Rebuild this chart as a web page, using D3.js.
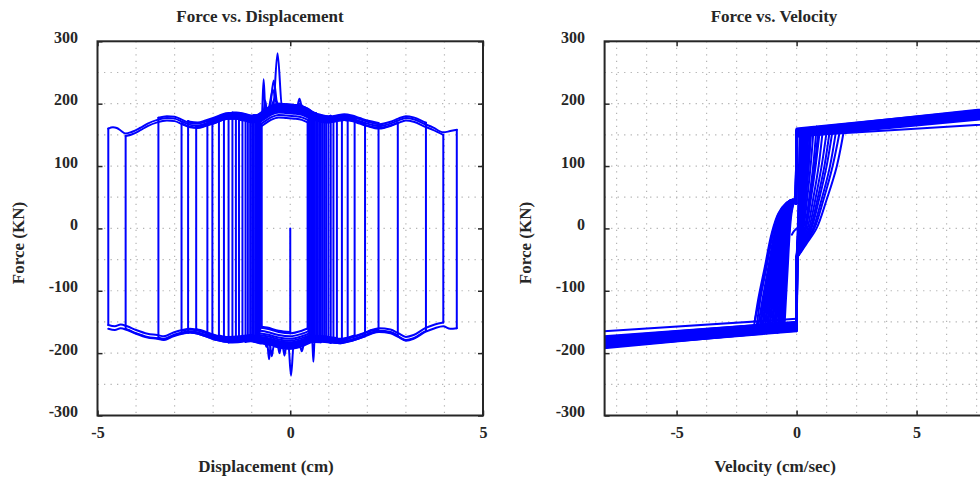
<!DOCTYPE html>
<html><head><meta charset="utf-8">
<script src="https://cdn.jsdelivr.net/npm/d3@7"></script>
<style>body{margin:0;background:#fff;} svg{display:block;}</style>
</head><body>
<svg id="c" width="980" height="482"></svg>
<script>
// ---------- tick labels / grid ----------
const forceTicks = [-300, -200, -100, 0, 100, 200, 300];
const forceGrid = [-250, -200, -150, -100, -50, 0, 50, 100, 150, 200, 250];
const dispTicks = [-5, 0, 5];
const dispGrid = [-4, -3, -2, -1, 0, 1, 2, 3, 4];
const velTicks = [-5, 0, 5];
const velGrid = [-7.5, -6.25, -5, -3.75, -2.5, -1.25, 0, 1.25, 2.5, 3.75, 5, 6.25, 7.5];

// ---------- Force vs displacement ----------
// reversal displacements (cm), cycle by cycle
const leftRev = [-0.74, -0.76, -0.78, -0.80, -0.82, -0.85, -0.88, -0.91, -0.95, -0.99, -1.04, -1.10, -1.16, -1.24,
                 -1.33, -1.41, -1.50, -1.60, -1.72, -1.85, -2.02, -2.15, -2.44, -2.65, -2.82, -3.42, -4.27, -4.72];
const rightRev = [0.45, 0.47, 0.49, 0.51, 0.54, 0.57, 0.60, 0.63, 0.67, 0.71, 0.75, 0.79, 0.83, 0.88,
                  0.93, 0.99, 1.05, 1.12, 1.21, 1.34, 1.49, 1.67, 1.94, 2.29, 2.79, 3.52, 3.97, 4.32];
// upper (sliding right) force plateau, kN
const upperX = [-4.72,-4.6,-4.5,-4.4,-4.27,-4.1,-3.9,-3.7,-3.45,-3.2,-3.0,-2.8,-2.6,-2.4,-2.2,-2.0,-1.8,-1.6,-1.4,-1.2,-1.0,-0.85,-0.7,-0.5,-0.3,-0.1,0.1,0.3,0.45,0.6,0.8,1.0,1.2,1.4,1.6,1.8,2.0,2.3,2.6,2.8,3.0,3.2,3.5,3.7,3.97,4.15,4.32];
const upperF = [160,162,161,157,152,155,161,168,174,177,176,171,166,165,168,172,177,180,180,178,175,176,182,190,194,193,192,190,186,180,176,174,176,178,176,172,168,164,168,173,177,175,167,162,154,156,158];
// lower (sliding left) force plateau, kN
const lowerX = [-4.72,-4.55,-4.4,-4.23,-4.0,-3.7,-3.45,-3.28,-3.03,-2.8,-2.6,-2.33,-2.1,-1.9,-1.6,-1.3,-1.03,-0.8,-0.6,-0.3,0,0.3,0.6,0.9,1.1,1.3,1.6,1.9,2.1,2.3,2.6,2.8,3.0,3.2,3.5,3.75,3.97,4.15,4.32];
const lowerF = [-158,-160,-157,-160,-166,-172,-174,-176,-170,-166,-164,-167,-172,-176,-179,-178,-176,-179,-181,-186,-188,-184,-177,-178,-180,-181,-177,-171,-166,-163,-165,-171,-177,-174,-163,-157,-154,-158,-157];
// per-cycle plateau offsets, kN
const topShift = [-16, -12, -8, -5, -3, -6, 0, 4, 6, 1, -4, 5, -2, 3, -5, 2, 6, -3, 0, 4, -4, 2, -1, 5, -3, 3, -4, 0];
const botShift = [20, 15, 11, 8, 5, 3, 1, 0, -4, 4, -1, -5, 2, -3, 4, 0, -4, 3, 5, -2, 1, 4, -3, 2, -1, -2, 3, -3];
// start of record
const startDisp = 0, startForce = 0, startShift = 22;
// force spikes on the upper plateau: cycle, displacement, peak force, half-width
const topSpikeCycle = [9, 10, 11, 12, 13, 14, 15, 16, 17];
const topSpikeX = [-0.65, -0.69, -0.43, -0.33, -0.45, -0.40, 0.24, 0.25, 0.56];
const topSpikeF = [205, 239, 237, 281, 222, 208, 208, 200, 186];
const topSpikeW = [0.05, 0.05, 0.10, 0.12, 0.12, 0.15, 0.07, 0.08, 0.06];
// force spikes on the lower plateau
const botSpikeCycle = [9, 10, 11, 12, 13, 14, 15, 16];
const botSpikeX = [-0.15, -0.55, -0.48, 0.02, 0.60, -0.28, -0.62, 0.30];
const botSpikeF = [-204, -210, -205, -236, -214, -200, -190, -197];
const botSpikeW = [0.06, 0.05, 0.05, 0.07, 0.03, 0.06, 0.04, 0.05];

// ---------- Force vs velocity ----------
// shape of the widest force-reversal lobes (cm/sec, kN)
const posLobeV = [0.05, 0.2, 0.42, 0.83, 1.25, 1.67, 2.01];
const posLobeF = [-45, -37, -24, 0, 46, 99, 152];
const negLobeV = [-0.05, -0.17, -0.42, -0.76, -1.04, -1.32, -1.6, -1.8];
const negLobeF = [40, 46, 41, 24, -8, -61, -114, -149];
// per-cycle lobe reach, peak velocities and band forces
const lobePosEnd = [0.12,0.15,0.18,0.2,0.22,0.25,0.28,0.3,0.33,0.36,0.4,0.42,0.45,0.5,0.55,0.6,0.7,0.83,0.95,1.1,1.25,1.39,1.5,1.67,1.8,2.01,0.9,0.6];
const lobeNegStart = [-0.5,-0.55,-0.6,-0.62,-0.65,-0.7,-0.72,-0.75,-0.8,-0.85,-0.9,-0.95,-1.0,-1.05,-1.1,-1.15,-1.2,-1.25,-1.3,-1.35,-1.4,-1.45,-1.5,-1.55,-1.6,-1.7,-1.75,-1.8];
const vMax = [7, 8, 9, 10, 11, 12, 13, 9, 10, 14, 12, 15, 11, 16, 13, 18, 14, 20, 15, 22, 17, 24, 19, 26, 21, 28, 23, 30];
const vMin = [-8.5, -9, -10, -11, -12, -13, -9, -14, -10, -15, -12, -16, -11, -17, -13, -18, -14, -20, -15, -22, -17, -24, -19, -26, -21, -28, -23, -30];
const posF0 = [150,152,155,148,157,153,150,159,147,156,152,154,149,158,151,155,153,160,148,157,150,154,152,156,149,158,151,155];
const posF8 = [180,184,188,167,190,182,178,192,176,186,181,185,179,189,177,187,183,191,178,188,180,185,182,190,179,189,181,184];
const negF0 = [-152,-156,-160,-150,-163,-155,-158,-151,-165,-154,-157,-161,-153,-159,-150,-162,-156,-158,-152,-164,-155,-160,-153,-157,-151,-163,-145,-158];
const negF8 = [-176,-182,-188,-174,-192,-180,-185,-175,-190,-178,-184,-189,-177,-186,-173,-191,-181,-187,-176,-190,-179,-186,-178,-183,-175,-189,-165,-184];
const startVel = [0, -0.1, -0.2];
const startVelF = [0, -4, -10];

// ---------- drawing ----------
const FONT = '"Liberation Serif","Times New Roman",serif';
const INK = '#262626';
const BLUE = '#0000ff';
const svg = d3.select('#c');
const fmt = d => String(d);

function panel(opts) {
  const g = svg.append('g');
  const x = d3.scaleLinear().domain(opts.xdom).range([opts.x0, opts.x1]);
  const y = d3.scaleLinear().domain([-300, 300]).range([415.5, 41.3]);
  // grid
  const grid = g.append('g').attr('stroke', '#b4b4b4').attr('stroke-width', 1.2)
    .attr('stroke-dasharray', '1.3,5.2');
  grid.selectAll('.gx').data(opts.xgrid).join('line')
    .attr('x1', d => x(d)).attr('x2', d => x(d)).attr('y1', y(300)).attr('y2', y(-300));
  grid.selectAll('.gy').data(forceGrid).join('line')
    .attr('x1', x(opts.xdom[0])).attr('x2', x(opts.xdom[1])).attr('y1', d => y(d)).attr('y2', d => y(d));
  // clip
  const cid = 'clip' + opts.id;
  svg.append('clipPath').attr('id', cid).append('rect')
    .attr('x', x(opts.xdom[0])).attr('y', y(300))
    .attr('width', x(opts.xdom[1]) - x(opts.xdom[0])).attr('height', y(-300) - y(300));
  const data = g.append('g').attr('clip-path', `url(#${cid})`)
    .attr('fill', 'none').attr('stroke', BLUE).attr('stroke-width', 2)
    .attr('stroke-linecap', 'round').attr('stroke-linejoin', 'round');
  // axes
  const styleAxis = sel => {
    sel.select('.domain').remove();
    sel.selectAll('line').attr('stroke', INK).attr('stroke-width', 1.5);
    sel.selectAll('text').attr('font-family', FONT).attr('font-size', 16)
      .attr('font-weight', 'bold').attr('fill', INK);
  };
  const ax = g.append('g');
  ax.append('g').attr('transform', `translate(${x(opts.xdom[0])},0)`)
    .call(d3.axisLeft(y).tickValues(forceTicks).tickSize(-5).tickPadding(19.5).tickFormat(fmt))
    .call(styleAxis).call(s => s.selectAll('text').attr('dy', '0.07em'));
  ax.append('g').attr('transform', `translate(${x(opts.xdom[1])},0)`)
    .call(d3.axisRight(y).tickValues(forceTicks).tickSize(-5).tickFormat(''))
    .call(styleAxis);
  ax.append('g').attr('transform', `translate(0,${y(-300)})`)
    .call(d3.axisBottom(x).tickValues(opts.ticks).tickSize(-5).tickFormat(fmt))
    .call(styleAxis).call(s => s.selectAll('text').attr('y', 22.5).attr('dy', 0));
  ax.append('g').attr('transform', `translate(0,${y(300)})`)
    .call(d3.axisTop(x).tickValues(opts.ticks).tickSize(-5).tickFormat(''))
    .call(styleAxis);
  ax.append('rect').attr('x', x(opts.xdom[0])).attr('y', y(300))
    .attr('width', x(opts.xdom[1]) - x(opts.xdom[0])).attr('height', y(-300) - y(300))
    .attr('fill', 'none').attr('stroke', INK).attr('stroke-width', 2);
  // labels
  const txt = (s, tx, ty, rot) => g.append('text').text(s)
    .attr('transform', `translate(${tx},${ty})` + (rot ? ' rotate(-90)' : ''))
    .attr('text-anchor', 'middle').attr('font-family', FONT).attr('font-size', 17)
    .attr('font-weight', 'bold').attr('fill', INK);
  txt(opts.title, opts.titleX, 22);
  txt(opts.xlabel, opts.xlabelX, 472);
  txt('Force (KN)', opts.ylabelX, 243, true);
  return {x, y, data};
}

// ----- left: force vs displacement -----
const P1 = panel({id: 1, xdom: [-5, 5], x0: 97.5, x1: 483, xgrid: dispGrid, ticks: dispTicks,
  title: 'Force vs. Displacement', titleX: 260, xlabel: 'Displacement (cm)', xlabelX: 266, ylabelX: 24});
{
  const {x, y, data} = P1;
  const up = d3.scaleLinear().domain(upperX).range(upperF);
  const lo = d3.scaleLinear().domain(lowerX).range(lowerF);
  const curved = d3.line().x(d => x(d[0])).y(d => y(d[1])).curve(d3.curveMonotoneX);
  const straight = d3.line().x(d => x(d[0])).y(d => y(d[1]));
  function plateau(prof, profX, a, b, shift, sx, sf, sw) {
    const l = Math.min(a, b), h = Math.max(a, b);
    let pts = [[l, prof(l) + shift]];
    profX.forEach(v => { if (v > l && v < h) pts.push([v, prof(v) + shift]); });
    pts.push([h, prof(h) + shift]);
    sx.forEach((c, k) => {
      if (c - sw[k] > l && c + sw[k] < h) {
        pts = pts.filter(p => Math.abs(p[0] - c) >= sw[k]);
        pts.push([c - sw[k], prof(c - sw[k]) + shift], [c, sf[k]], [c + sw[k], prof(c + sw[k]) + shift]);
      }
    });
    return pts.sort((p, q) => p[0] - q[0]);
  }
  const N = leftRev.length;
  // start of record
  data.append('path').attr('d', straight([[startDisp, startForce], [startDisp, lo(startDisp) + startShift]]));
  data.append('path').attr('d', curved(plateau(lo, lowerX, startDisp, leftRev[0], startShift, [], [], [])));
  for (let i = 0; i < N; i++) {
    const L = leftRev[i], R = rightRev[i];
    const prevShift = i === 0 ? startShift : botShift[i - 1];
    const nextL = i < N - 1 ? leftRev[i + 1] : leftRev[N - 1];
    const tsel = topSpikeCycle.map((c, k) => c === i ? k : -1).filter(k => k >= 0);
    const bsel = botSpikeCycle.map((c, k) => c === i ? k : -1).filter(k => k >= 0);
    data.append('path').attr('d', straight([[L, lo(L) + prevShift], [L, up(L) + topShift[i]]]));
    data.append('path').attr('d', curved(plateau(up, upperX, L, R, topShift[i],
      tsel.map(k => topSpikeX[k]), tsel.map(k => topSpikeF[k]), tsel.map(k => topSpikeW[k]))));
    data.append('path').attr('d', straight([[R, up(R) + topShift[i]], [R, lo(R) + botShift[i]]]));
    data.append('path').attr('d', curved(plateau(lo, lowerX, R, nextL, botShift[i],
      bsel.map(k => botSpikeX[k]), bsel.map(k => botSpikeF[k]), bsel.map(k => botSpikeW[k]))));
  }
}

// ----- right: force vs velocity -----
const P2 = panel({id: 2, xdom: [-8, 8], x0: 604.6, x1: 988.6, xgrid: velGrid, ticks: velTicks,
  title: 'Force vs. Velocity', titleX: 774, xlabel: 'Velocity (cm/sec)', xlabelX: 775, ylabelX: 531});
{
  const {x, y, data} = P2;
  const straight = d3.line().x(d => x(d[0])).y(d => y(d[1]));
  const smooth = d3.line().x(d => x(d[0])).y(d => y(d[1])).curve(d3.curveCatmullRom.alpha(0.5));
  data.append('path').attr('d', smooth(startVel.map((v, k) => [v, startVelF[k]])));
  const pEnd = posLobeV[posLobeV.length - 1];
  const nEnd = negLobeV[negLobeV.length - 1];
  for (let i = 0; i < vMax.length; i++) {
    const pb = d3.scaleLinear().domain([0, 8]).range([posF0[i], posF8[i]]);
    const nb = d3.scaleLinear().domain([0, -8]).range([negF0[i], negF8[i]]);
    const ps = d3.scaleLinear().domain([0, pEnd]).range([0, lobePosEnd[i]]);
    const ns = d3.scaleLinear().domain([0, nEnd]).range([0, lobeNegStart[i]]);
    const pl = posLobeV.slice(0, -1).map((v, k) => [ps(v), posLobeF[k]]);
    pl.push([lobePosEnd[i], pb(lobePosEnd[i])]);
    const nl = negLobeV.slice(0, -1).map((v, k) => [ns(v), negLobeF[k]]);
    nl.push([lobeNegStart[i], nb(lobeNegStart[i])]);
    data.append('path').attr('d', straight([[0, nb(0)], pl[0]]));
    data.append('path').attr('d', smooth(pl));
    data.append('path').attr('d', straight([pl[pl.length - 1], [vMax[i], pb(vMax[i])], [0, pb(0)], nl[0]]));
    data.append('path').attr('d', smooth(nl));
    data.append('path').attr('d', straight([nl[nl.length - 1], [vMin[i], nb(vMin[i])], [0, nb(0)]]));
  }
}
</script>
</body></html>
